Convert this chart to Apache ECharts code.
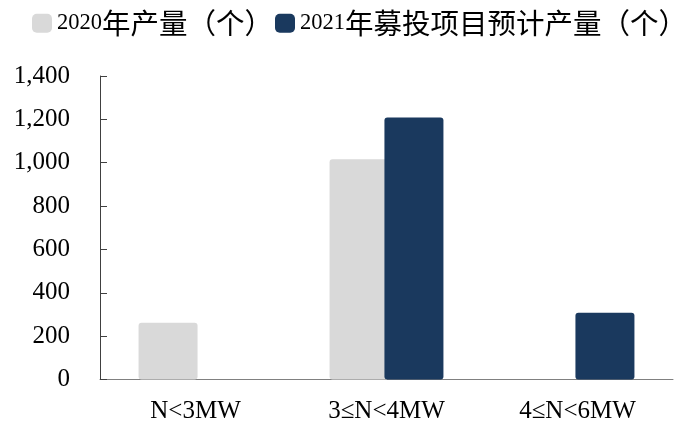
<!DOCTYPE html>
<html>
<head>
<meta charset="utf-8">
<script src="https://cdn.jsdelivr.net/npm/echarts@6/dist/echarts.min.js"></script>
<style>
  html, body { margin: 0; padding: 0; background: #fff; }
  #chart { width: 693px; height: 425px; }
</style>
</head>
<body>
<div id="chart"></div>
<script>
// Wind turbine output by rated power class
const categories = ['N<3MW', '3≤N<4MW', '4≤N<6MW'];
const output2020 = [262, 1016, null];
const planned2021 = [null, 1208, 308];
const seriesNames = ['2020年产量（个）', '2021年募投项目预计产量（个）'];
const yTicks = { min: 0, max: 1400, interval: 200 };

const serif = '"Liberation Serif", "Times New Roman", serif';
const cjk = '"Noto Sans CJK SC", sans-serif';

// split a legend name into runs of Latin digits and CJK characters
function legendRich(name) {
  return name.replace(/(\d+)|([^\d]+)/g, function (m, d, c) {
    return d ? '{d|' + d + '}' : '{c|' + c + '}';
  });
}

const chart = echarts.init(document.getElementById('chart'), null, { renderer: 'canvas' });
chart.setOption({
  animation: false,
  backgroundColor: '#ffffff',
  legend: {
    left: 32,
    top: 9,
    width: 661,
    padding: 0,
    itemWidth: 20,
    itemHeight: 19,
    itemGap: 2,
    icon: 'roundRect',
    formatter: legendRich,
    textStyle: {
      rich: {
        d: { fontFamily: serif, fontSize: 22.5, color: '#000' },
        c: { fontFamily: cjk, fontSize: 28.5, color: '#000' }
      }
    },
    data: seriesNames
  },
  grid: { left: 100, right: 20, top: 76, bottom: 45.5 },
  xAxis: {
    type: 'category',
    data: categories,
    axisLine: { lineStyle: { color: '#808080', width: 1 } },
    axisTick: { inside: true, length: 7, lineStyle: { color: '#808080' } },
    axisLabel: { fontFamily: serif, fontSize: 25, color: '#000', margin: 19 }
  },
  yAxis: {
    type: 'value',
    min: yTicks.min,
    max: yTicks.max,
    interval: yTicks.interval,
    splitLine: { show: false },
    axisLine: { show: true, lineStyle: { color: '#404040', width: 1 } },
    axisTick: { show: true, inside: true, length: 7, lineStyle: { color: '#404040' } },
    axisLabel: {
      fontFamily: serif, fontSize: 25, color: '#000', margin: 30,
      formatter: function (v) { return v.toLocaleString('en-US'); }
    }
  },
  series: [
    {
      name: seriesNames[0],
      type: 'bar',
      data: output2020,
      barWidth: 59,
      barGap: '-7%',
      itemStyle: { color: '#d9d9d9', borderRadius: 3 }
    },
    {
      name: seriesNames[1],
      type: 'bar',
      data: planned2021,
      barWidth: 59,
      itemStyle: { color: '#1a395e', borderRadius: 3 }
    }
  ]
});
</script>
</body>
</html>
